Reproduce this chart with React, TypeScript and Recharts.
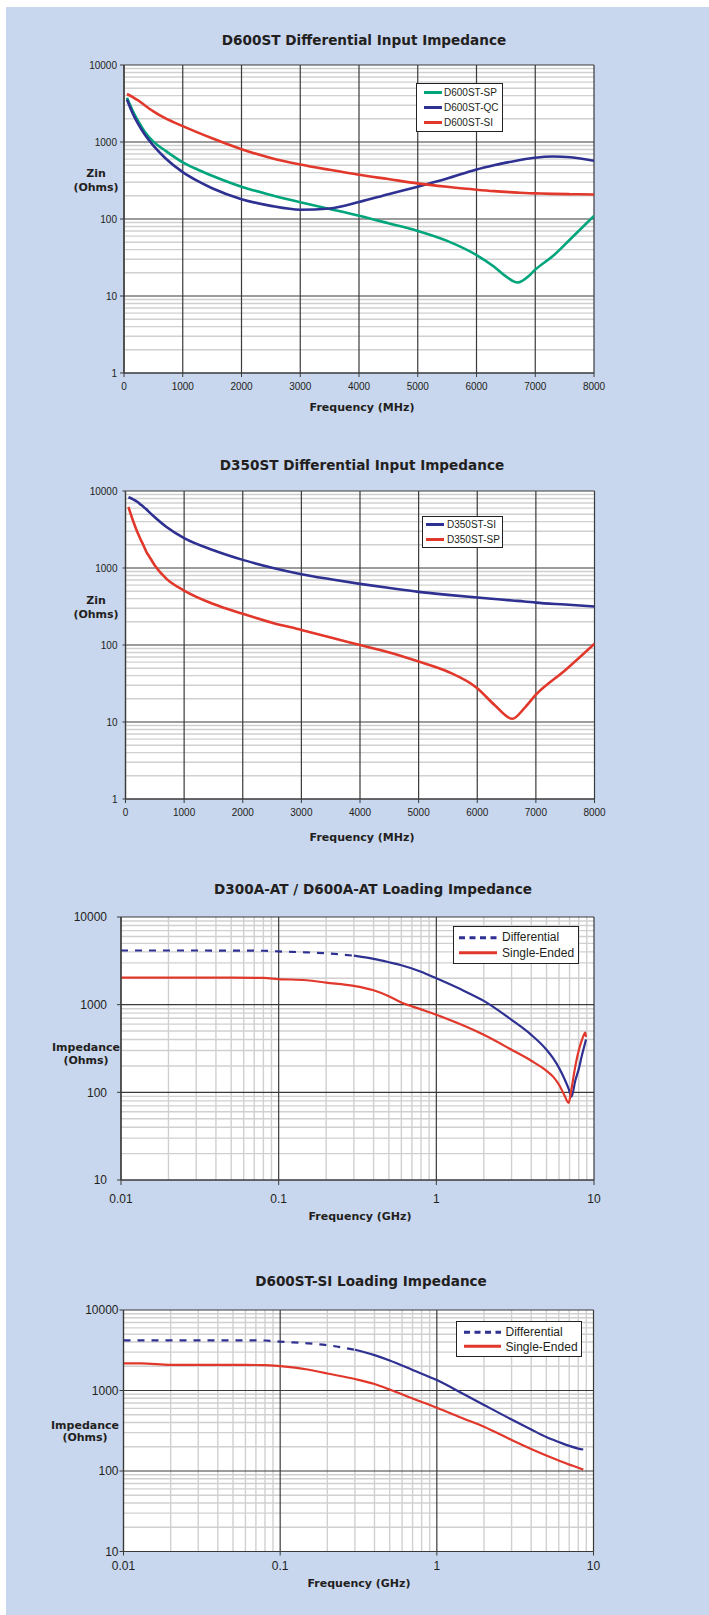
import React from "react";
import { LineChart, Line, XAxis, YAxis, CartesianGrid, Legend } from "recharts";

const PANEL = "#c8d6ee";
const INK = "#231f20";
const GRID_MAJOR = "#3a3a3a";
const GRID_MINOR = "#d0d0d0";
const BLUE = "#2e3191";
const RED = "#e1382b";
const GREEN = "#00a57c";
const SANS = "'Liberation Sans', Arial, Helvetica, sans-serif";
const HEAVY = "'DejaVu Sans', Verdana, sans-serif";

// D600ST Differential Input Impedance (MHz / Ohms)
const d600Freq = [50, 150, 250, 350, 500, 700, 1000, 1250, 1500, 2000, 2500, 3000, 3500, 4000, 4500, 5000, 5500, 6000, 6300, 6500, 6700, 6900, 7000, 7300, 7600, 8000];
const d600SP = [3750, 2530, 1820, 1370, 1010, 776, 545, 440, 365, 263, 205, 165, 135, 110, 88, 70, 52, 34, 24, 18, 15, 18.5, 22, 33, 55, 110];
const d600QC = [3565, 2333, 1668, 1259, 895, 620, 406, 312, 251, 181, 148, 132, 137, 166, 210, 263, 335, 440, 500, 540, 575, 610, 625, 648, 635, 571];
const d600SI = [4200, 3840, 3428, 3006, 2497, 2037, 1607, 1333, 1117, 806, 620, 510, 435, 375, 330, 290, 262, 240, 230, 225, 220, 216, 215, 212, 210, 208];

// D350ST Differential Input Impedance (MHz / Ohms)
const d350Freq = [50, 130, 200, 250, 300, 360, 400, 500, 700, 1000, 1500, 2000, 2500, 3000, 3500, 4000, 4500, 5000, 5500, 6000, 6300, 6600, 6800, 7000, 7500, 8000];
const d350SI = [8280, 7800, 7250, 6750, 6300, 5740, 5350, 4550, 3400, 2440, 1700, 1275, 1010, 832, 715, 622, 550, 490, 448, 413, 395, 378, 368, 355, 335, 316];
const d350SP = [6200, 4080, 2950, 2420, 2015, 1600, 1432, 1080, 722, 509, 340, 254, 195, 157, 125, 100, 80, 61, 45, 27.5, 16.5, 11, 15, 22.6, 47, 104];

// D300A-AT / D600A-AT Loading Impedance (GHz / Ohms)
const d300Freq = [0.01, 0.02, 0.05, 0.08, 0.1, 0.15, 0.2, 0.3, 0.4, 0.5, 0.6, 0.8, 1, 1.5, 2, 3, 4, 5, 5.5, 6, 6.5, 6.9, 7.2, 7.6, 8, 8.4, 8.8, 8.9];
const d300Diff = [4150, 4150, 4140, 4120, 4050, 3950, 3860, 3620, 3330, 3050, 2820, 2380, 2000, 1436, 1104, 671, 453, 306, 245, 190, 142, 110, 89, 135, 184, 268, 370, 400];
const d300Single = [2030, 2030, 2030, 2020, 1960, 1900, 1786, 1637, 1460, 1250, 1060, 884, 766, 574, 453, 306, 229, 176, 151, 122, 92, 76, 110, 195, 300, 400, 480, 430];

// D600ST-SI Loading Impedance (GHz / Ohms)
const siFreq = [0.01, 0.013, 0.02, 0.05, 0.08, 0.1, 0.15, 0.2, 0.3, 0.4, 0.5, 0.7, 1, 1.5, 2, 3, 4, 5, 6, 7, 8, 8.6];
const siDiff = [4200, 4200, 4200, 4200, 4180, 4040, 3855, 3656, 3205, 2750, 2360, 1800, 1349, 891, 661, 436, 328, 264, 229, 205, 190, 185];
const siSingle = [2170, 2170, 2080, 2080, 2070, 2010, 1824, 1626, 1390, 1205, 1029, 796, 611, 443, 355, 243, 188, 156, 135, 120, 110, 104];

const mhzTicks = [0, 1000, 2000, 3000, 4000, 5000, 6000, 7000, 8000];
const ghzTicks = [0.01, 0.1, 1, 10];
const zinTicks = [1, 10, 100, 1000, 10000];
const loadTicks = [10, 100, 1000, 10000];
const DASH_END = 0.3; // differential traces read as dashed below this frequency

// minor log grid positions (2..9 inside each decade)
function minors(lo: number, hi: number) {
  const out: number[] = [];
  for (let d = lo; d < hi; d *= 10) for (let m = 2; m <= 9; m++) out.push(+(m * d).toPrecision(3));
  return out;
}

type Series = { key: string; color: string; width: number; dash?: string; values: (number | null)[] };
type LegendItem = { name: string; color: string; dash?: string };

type ChartDef = {
  title: string; titleAt: [number, number];
  yLabel: string[]; yLabelAt: [number, number]; yLabelGap: number;
  xLabel: string; xLabelAt: [number, number];
  plot: { left: number; right: number; top: number; bottom: number };
  freq: number[]; series: Series[];
  xLog: boolean; xDomain: [number, number]; xTicks: number[]; xMinor: number[];
  yDomain: [number, number]; yTicks: number[]; yMinor: number[];
  font: number; xTick: [number, number]; yTick: [number, number];
  legend: { left: number; top: number; width: number; rowH: number; padTop: number; padLeft: number; sampleW: number; gap: number; font: number; items: LegendItem[] };
};

function Label({ at, size, children }: { at: [number, number]; size: number; children: React.ReactNode }) {
  return (
    <div style={{ position: "absolute", left: at[0], top: at[1], transform: "translate(-50%, -50%)", whiteSpace: "nowrap", lineHeight: 1, fontFamily: HEAVY, fontWeight: "bold", fontSize: size, color: INK }}>
      {children}
    </div>
  );
}

function LegendBox({ l }: { l: ChartDef["legend"] }) {
  return (
    <div style={{ width: l.width, boxSizing: "border-box", border: "1.5px solid #222", background: "#fff", paddingTop: l.padTop, paddingBottom: l.padTop, paddingLeft: l.padLeft, fontFamily: SANS, fontSize: l.font, color: INK }}>
      {l.items.map((it) => (
        <div key={it.name} style={{ height: l.rowH, display: "flex", alignItems: "center" }}>
          <svg width={l.sampleW} height={l.rowH} style={{ marginRight: l.gap, flex: "none" }}>
            <line x1={0} x2={l.sampleW} y1={l.rowH / 2} y2={l.rowH / 2} stroke={it.color} strokeWidth={3} strokeDasharray={it.dash} />
          </svg>
          <span style={{ whiteSpace: "nowrap" }}>{it.name}</span>
        </div>
      ))}
    </div>
  );
}

function ImpedanceChart({ def }: { def: ChartDef }) {
  const { plot, legend } = def;
  const headroom = 30;
  const xAxisH = 36;
  const yAxisW = 70;
  const svgTop = plot.top - headroom;
  const height = plot.bottom - plot.top + headroom + xAxisH;
  const rows = def.freq.map((f, i) => {
    const r: Record<string, number | null> = { f };
    def.series.forEach((s) => (r[s.key] = s.values[i]));
    return r;
  });
  const tick = { fontSize: def.font, fill: INK, fontFamily: SANS };
  return (
    <>
      <Label at={def.titleAt} size={13.6}>{def.title}</Label>
      {def.yLabel.map((t, i) => (
        <Label key={t} at={[def.yLabelAt[0], def.yLabelAt[1] + i * def.yLabelGap]} size={11}>{t}</Label>
      ))}
      <Label at={def.xLabelAt} size={11}>{def.xLabel}</Label>
      <div style={{ position: "absolute", left: 0, top: svgTop }}>
        <LineChart width={709} height={height} data={rows} margin={{ top: headroom, right: 709 - plot.right, bottom: 0, left: plot.left - yAxisW }}>
          <CartesianGrid fill="#fff" stroke={GRID_MINOR} strokeWidth={1.4} horizontalValues={def.yMinor} verticalValues={def.xMinor.length ? def.xMinor : [def.xDomain[0]]} />
          <CartesianGrid stroke={GRID_MAJOR} strokeWidth={1.2} horizontalValues={def.yTicks} verticalValues={def.xTicks} />
          <XAxis dataKey="f" type="number" scale={def.xLog ? "log" : "linear"} domain={def.xDomain} ticks={def.xTicks} interval={0} allowDataOverflow height={xAxisH}
            tick={tick} tickLine={{ stroke: GRID_MAJOR }} axisLine={{ stroke: GRID_MAJOR, strokeWidth: 1.2 }} tickSize={def.xTick[0]} tickMargin={def.xTick[1]} tickFormatter={(v: number) => String(v)} />
          <YAxis type="number" scale="log" domain={def.yDomain} ticks={def.yTicks} interval={0} allowDataOverflow width={yAxisW}
            tick={tick} tickLine={{ stroke: GRID_MAJOR }} axisLine={{ stroke: GRID_MAJOR, strokeWidth: 1.2 }} tickSize={def.yTick[0]} tickMargin={def.yTick[1]} tickFormatter={(v: number) => String(v)} />
          {def.series.map((s) => (
            <Line key={s.key} dataKey={s.key} type="monotone" stroke={s.color} strokeWidth={s.width} strokeDasharray={s.dash} dot={false} activeDot={false} connectNulls={false} isAnimationActive={false} />
          ))}
          <Legend layout="vertical" align="center" verticalAlign="middle" wrapperStyle={{ left: legend.left, top: legend.top - svgTop, width: legend.width }} content={() => <LegendBox l={legend} />} />
        </LineChart>
      </div>
    </>
  );
}

const splitDash = (freq: number[], vals: number[], dashed: boolean) => vals.map((v, i) => ((dashed ? freq[i] <= DASH_END : freq[i] >= DASH_END) ? v : null));

const charts: ChartDef[] = [
  {
    title: "D600ST Differential Input Impedance", titleAt: [364, 41],
    yLabel: ["Zin", "(Ohms)"], yLabelAt: [96, 173], yLabelGap: 14,
    xLabel: "Frequency (MHz)", xLabelAt: [362, 407],
    plot: { left: 124, right: 594, top: 65, bottom: 373 },
    freq: d600Freq,
    series: [
      { key: "sp", color: GREEN, width: 2.6, values: d600SP },
      { key: "qc", color: BLUE, width: 2.6, values: d600QC },
      { key: "si", color: RED, width: 2.6, values: d600SI },
    ],
    xLog: false, xDomain: [0, 8000], xTicks: mhzTicks, xMinor: [],
    yDomain: [1, 10000], yTicks: zinTicks, yMinor: minors(1, 10000),
    font: 10, xTick: [4, 6], yTick: [4, 3],
    legend: { left: 416, top: 83, width: 87, rowH: 15, padTop: 1, padLeft: 7, sampleW: 18, gap: 2, font: 10,
      items: [{ name: "D600ST-SP", color: GREEN }, { name: "D600ST-QC", color: BLUE }, { name: "D600ST-SI", color: RED }] },
  },
  {
    title: "D350ST Differential Input Impedance", titleAt: [362, 466],
    yLabel: ["Zin", "(Ohms)"], yLabelAt: [96, 600], yLabelGap: 14,
    xLabel: "Frequency (MHz)", xLabelAt: [362, 837],
    plot: { left: 125.5, right: 594.5, top: 491, bottom: 799 },
    freq: d350Freq,
    series: [
      { key: "si", color: BLUE, width: 2.6, values: d350SI },
      { key: "sp", color: RED, width: 2.6, values: d350SP },
    ],
    xLog: false, xDomain: [0, 8000], xTicks: mhzTicks, xMinor: [],
    yDomain: [1, 10000], yTicks: zinTicks, yMinor: minors(1, 10000),
    font: 10, xTick: [4, 6], yTick: [3, 5],
    legend: { left: 422, top: 516, width: 81, rowH: 15, padTop: 0, padLeft: 3, sampleW: 18, gap: 3, font: 10,
      items: [{ name: "D350ST-SI", color: BLUE }, { name: "D350ST-SP", color: RED }] },
  },
  {
    title: "D300A-AT / D600A-AT Loading Impedance", titleAt: [373, 890],
    yLabel: ["Impedance", "(Ohms)"], yLabelAt: [86, 1047], yLabelGap: 13,
    xLabel: "Frequency (GHz)", xLabelAt: [360, 1216],
    plot: { left: 121, right: 594, top: 917, bottom: 1180 },
    freq: d300Freq,
    series: [
      { key: "diffDash", color: BLUE, width: 2.2, dash: "7 7", values: splitDash(d300Freq, d300Diff, true) },
      { key: "diff", color: BLUE, width: 2.2, values: splitDash(d300Freq, d300Diff, false) },
      { key: "single", color: RED, width: 2.2, values: d300Single },
    ],
    xLog: true, xDomain: [0.01, 10], xTicks: ghzTicks, xMinor: minors(0.01, 10),
    yDomain: [10, 10000], yTicks: loadTicks, yMinor: minors(10, 10000),
    font: 12, xTick: [5, 9], yTick: [4, 10],
    legend: { left: 453, top: 926, width: 126, rowH: 15.7, padTop: 2.5, padLeft: 5, sampleW: 38, gap: 5, font: 12,
      items: [{ name: "Differential", color: BLUE, dash: "6 4.5" }, { name: "Single-Ended", color: RED }] },
  },
  {
    title: "D600ST-SI Loading Impedance", titleAt: [371, 1282],
    yLabel: ["Impedance", "(Ohms)"], yLabelAt: [85, 1425], yLabelGap: 12,
    xLabel: "Frequency (GHz)", xLabelAt: [359, 1583],
    plot: { left: 123.5, right: 593.5, top: 1310, bottom: 1551.5 },
    freq: siFreq,
    series: [
      { key: "diffDash", color: BLUE, width: 2.2, dash: "7 7", values: splitDash(siFreq, siDiff, true) },
      { key: "diff", color: BLUE, width: 2.2, values: splitDash(siFreq, siDiff, false) },
      { key: "single", color: RED, width: 2.2, values: siSingle },
    ],
    xLog: true, xDomain: [0.01, 10], xTicks: ghzTicks, xMinor: minors(0.01, 10),
    yDomain: [10, 10000], yTicks: loadTicks, yMinor: minors(10, 10000),
    font: 12, xTick: [4, 6], yTick: [4, 1],
    legend: { left: 455.5, top: 1321, width: 126.5, rowH: 14.7, padTop: 2.5, padLeft: 7, sampleW: 37, gap: 5, font: 12,
      items: [{ name: "Differential", color: BLUE, dash: "6 4.5" }, { name: "Single-Ended", color: RED }] },
  },
];

export default function App() {
  return (
    <div style={{ position: "absolute", left: 0, top: 0, width: 709, height: 1615, background: "#fff", overflow: "hidden" }}>
      <div style={{ position: "absolute", left: 6, top: 7, width: 703, height: 1608, background: PANEL }} />
      {charts.map((c) => (
        <ImpedanceChart key={c.title} def={c} />
      ))}
    </div>
  );
}
